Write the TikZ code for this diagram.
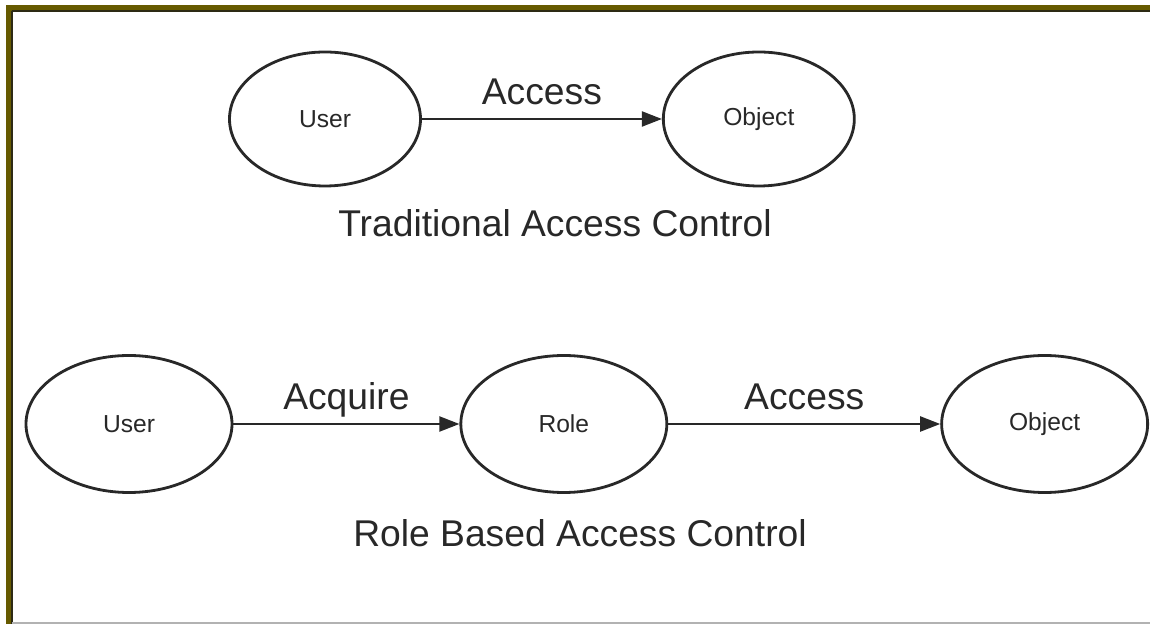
\documentclass[tikz,border=0pt]{standalone}
\usepackage{fontspec}
\setmainfont{Liberation Sans}
\usetikzlibrary{positioning,arrows.meta,shapes.geometric}
\definecolor{frameolive}{RGB}{102,90,0}
\definecolor{framedark}{RGB}{45,42,20}
\definecolor{inkgray}{RGB}{40,40,40}
\tikzset{
  ent/.style={ellipse, draw=inkgray, line width=0.8pt, minimum width=1.91cm, minimum height=1.34cm, inner sep=0pt, text=inkgray, font=\fontsize{7}{8}\selectfont},
  wideent/.style={ent, minimum width=2.06cm, minimum height=1.37cm},
  lbl/.style={anchor=base, yshift=1.4mm, text=inkgray, font=\fontsize{10.6}{12}\selectfont},
  caption/.style={anchor=base, text=inkgray, font=\fontsize{10.6}{12}\selectfont},
  arr/.style={-{Triangle[length=2mm, width=1.5mm]}, line width=0.6pt, draw=inkgray},
}
\begin{document}
\begin{tikzpicture}
  \useasboundingbox (0,0) rectangle (11.5,6.24);
  % frame along top and left
  \fill[frameolive] (0.06,6.19) rectangle (11.5,6.135);
  \fill[frameolive] (0.06,6.19) rectangle (0.115,0);
  \draw[framedark, line width=0.7pt] (0.115,6.13) -- (11.5,6.13);
  \draw[framedark, line width=0.7pt] (0.118,6.13) -- (0.118,0);
  \draw[gray!60, line width=0.7pt] (0.12,0.012) -- (11.5,0.012);

  % traditional model
  \node[ent] (user) at (3.25,5.05) {User};
  \node[ent, right=2.4cm of user] (obj) {Object};
  \draw[arr] (user) -- (obj) node[midway, lbl] {Access};
  \node[caption] (trac) at (5.55,3.87) {Traditional Access Control};

  % role based model
  \node[wideent] (ruser) at (1.29,2.0) {User};
  \node[wideent, right=2.26cm of ruser] (role) {Role};
  \node[wideent, right=2.72cm of role] (robj) {Object};
  \draw[arr] (ruser) -- (role) node[midway, lbl] {Acquire};
  \draw[arr] (role) -- (robj) node[midway, lbl] {Access};
  \node[caption] (rbac) at (5.8,0.77) {Role Based Access Control};
\end{tikzpicture}
\end{document}
